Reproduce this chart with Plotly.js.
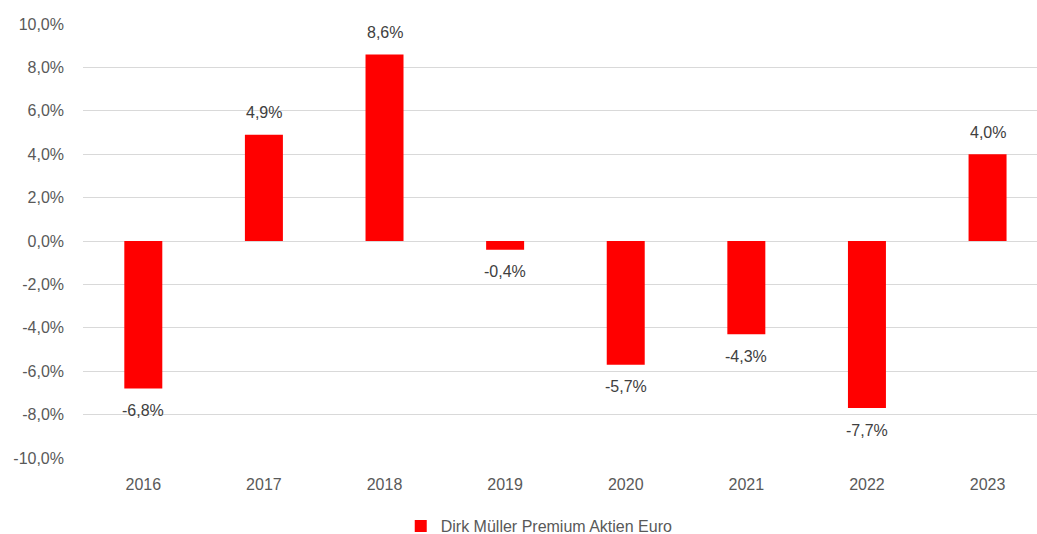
<!DOCTYPE html>
<html>
<head>
<meta charset="utf-8">
<script src="https://cdn.plot.ly/plotly-3.0.1.min.js"></script>
<style>html,body{margin:0;padding:0;background:#fff;}#chart{width:1037px;height:534px;}</style>
</head>
<body>
<div id="chart"></div>
<script>
const years = ['2016','2017','2018','2019','2020','2021','2022','2023'];
const returns = [-6.8, 4.9, 8.6, -0.4, -5.7, -4.3, -7.7, 4.0];
const yTicks = [-10, -8, -6, -4, -2, 0, 2, 4, 6, 8, 10];
const seriesName = 'Dirk Müller Premium Aktien Euro';

const fmt = v => v.toFixed(1).replace('.', ',') + '%';
const FONT = 'Liberation Sans, Arial, sans-serif';
const TXT = '#595959';

const annotations = years.map((yr, i) => ({
  x: i, y: returns[i], xref: 'x', yref: 'y',
  text: fmt(returns[i]), showarrow: false,
  xanchor: 'center', yanchor: 'middle', yshift: returns[i] >= 0 ? 22 : -22,
  font: {family: FONT, size: 16, color: '#404040'}
}));

const trace = {
  type: 'bar', x: years, y: returns, name: seriesName,
  marker: {color: '#ff0000'}, hoverinfo: 'none'
};

const layout = {
  width: 1037, height: 534,
  margin: {l: 83, r: 0, t: 24, b: 76},
  paper_bgcolor: '#fff', plot_bgcolor: '#fff',
  bargap: 0.685,
  showlegend: true,
  legend: {orientation: 'h', x: 0.52, xref: 'container', xanchor: 'center', y: 0.015, yref: 'container', yanchor: 'middle',
           font: {family: FONT, size: 16, color: TXT}},
  xaxis: {type: 'category', range: [-0.5, 7.41], showgrid: false, zeroline: false, showline: false,
          ticks: '', ticklabelstandoff: 15, tickfont: {family: FONT, size: 16, color: TXT}, fixedrange: true},
  yaxis: {range: [-10, 10], tickvals: yTicks, ticktext: yTicks.map(fmt),
          showgrid: true, gridcolor: '#d9d9d9', gridwidth: 1, zeroline: true, zerolinecolor: '#d9d9d9', zerolinewidth: 1,
          showline: false, ticks: '', ticklabelstandoff: 18, tickfont: {family: FONT, size: 16, color: TXT}, fixedrange: true},
  annotations: annotations
};

Plotly.newPlot('chart', [trace], layout, {displayModeBar: false});
</script>
</body>
</html>
